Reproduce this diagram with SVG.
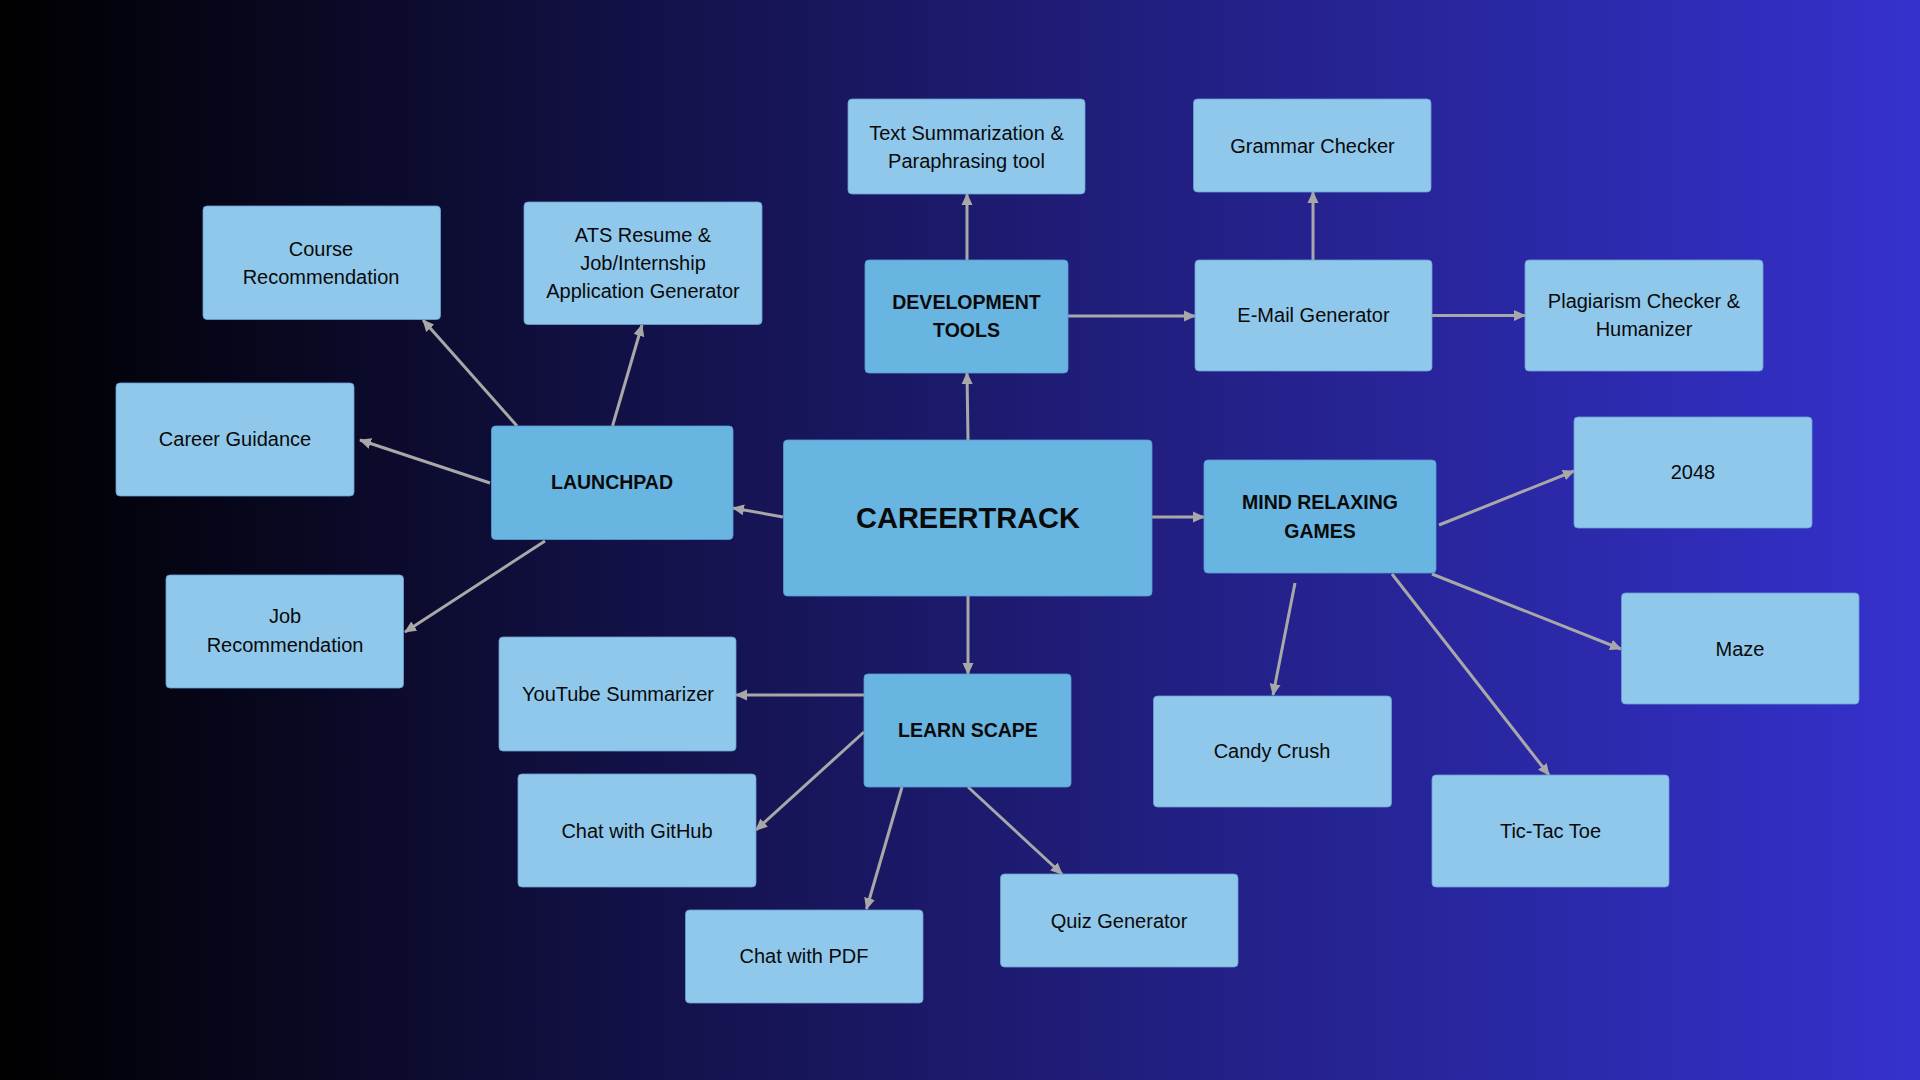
<svg xmlns="http://www.w3.org/2000/svg" width="1920" height="1080" viewBox="0 0 1920 1080">
<defs>
<linearGradient id="bg" x1="0" y1="0" x2="1" y2="0">
<stop offset="0" stop-color="#000000"/>
<stop offset="0.5" stop-color="#1c1a6c"/>
<stop offset="1" stop-color="#3531cd"/>
</linearGradient>
<marker id="arr" markerUnits="userSpaceOnUse" markerWidth="12" markerHeight="12" viewBox="0 0 12 12" refX="11" refY="6" orient="auto">
<path d="M0,0.5 L12,6 L0,11.5 z" fill="#a8a8a8"/>
</marker>
<style>
.box{fill:#90c8ec;stroke:#6a9fd6;stroke-width:0.8}
.hub{fill:#68b5e2;stroke:#5a9ad4;stroke-width:0.8}
.t{font-family:"Liberation Sans",Arial,sans-serif;font-size:20px;fill:#0a0a0a;text-anchor:middle}
.b{font-family:"Liberation Sans",Arial,sans-serif;font-size:19.5px;font-weight:bold;fill:#0a0a0a;text-anchor:middle}
.c line{stroke:#a8a8a8;stroke-width:3;marker-end:url(#arr)}
</style>
</defs>
<rect x="0" y="0" width="1920" height="1080" fill="url(#bg)"/>

<g id="connectors" class="c">
<line x1="783" y1="517" x2="733" y2="508"/>
<line x1="968" y1="440" x2="967" y2="373"/>
<line x1="1152" y1="517" x2="1204" y2="517"/>
<line x1="968" y1="596" x2="968" y2="674"/>
<line x1="967" y1="260" x2="967" y2="194"/>
<line x1="1068" y1="316" x2="1195" y2="316"/>
<line x1="1313" y1="260" x2="1313" y2="192"/>
<line x1="1432" y1="315.5" x2="1525" y2="315.5"/>
<line x1="517" y1="426" x2="423" y2="320"/>
<line x1="612.5" y1="426" x2="642" y2="325"/>
<line x1="490" y1="483" x2="360" y2="440"/>
<line x1="545" y1="541" x2="405" y2="632"/>
<line x1="864" y1="695" x2="736" y2="695"/>
<line x1="864" y1="732" x2="756" y2="830"/>
<line x1="902" y1="787" x2="866.5" y2="909"/>
<line x1="968" y1="787" x2="1062" y2="874"/>
<line x1="1439" y1="525" x2="1574" y2="471"/>
<line x1="1432" y1="574" x2="1621" y2="649"/>
<line x1="1295" y1="583" x2="1273" y2="695"/>
<line x1="1392" y1="574" x2="1549" y2="775"/>
</g>

<g id="careertrack"><rect class="hub" x="783.5" y="440" width="368.5" height="156" rx="4"/>
<text x="968" y="528" style="font-family:'Liberation Sans',Arial,sans-serif;font-size:29px;font-weight:bold;fill:#0a0a0a;text-anchor:middle">CAREERTRACK</text></g>

<g id="launchpad"><rect class="hub" x="491.5" y="426" width="241.5" height="113.5" rx="4"/>
<text class="b" x="612" y="489">LAUNCHPAD</text></g>

<g id="devtools"><rect class="hub" x="865" y="260" width="203" height="113" rx="4"/>
<text class="b" x="966.5" y="309">DEVELOPMENT</text><text class="b" x="966.5" y="337">TOOLS</text></g>

<g id="mindgames"><rect class="hub" x="1204" y="460" width="232" height="113" rx="4"/>
<text class="b" x="1320" y="509">MIND RELAXING</text><text class="b" x="1320" y="538">GAMES</text></g>

<g id="learnscape"><rect class="hub" x="864" y="674" width="207" height="113" rx="4"/>
<text class="b" x="968" y="737">LEARN SCAPE</text></g>

<g id="textsum"><rect class="box" x="848" y="99" width="237" height="95" rx="4"/>
<text class="t" x="966.5" y="140">Text Summarization &amp;</text><text class="t" x="966.5" y="168">Paraphrasing tool</text></g>

<g id="grammar"><rect class="box" x="1193.5" y="99" width="237.5" height="93" rx="4"/>
<text class="t" x="1312.5" y="153">Grammar Checker</text></g>

<g id="email"><rect class="box" x="1195" y="260" width="237" height="111" rx="4"/>
<text class="t" x="1313.5" y="322">E-Mail Generator</text></g>

<g id="plagiarism"><rect class="box" x="1525" y="260" width="238" height="111" rx="4"/>
<text class="t" x="1644" y="307.5">Plagiarism Checker &amp;</text><text class="t" x="1644" y="335.5">Humanizer</text></g>

<g id="course"><rect class="box" x="203" y="206" width="237.5" height="113.5" rx="4"/>
<text class="t" x="321" y="256">Course</text><text class="t" x="321" y="284">Recommendation</text></g>

<g id="ats"><rect class="box" x="524" y="202" width="238" height="122.5" rx="4"/>
<text class="t" x="643" y="241.5">ATS Resume &amp;</text><text class="t" x="643" y="270">Job/Internship</text><text class="t" x="643" y="297.5">Application Generator</text></g>

<g id="career"><rect class="box" x="116" y="383" width="238" height="113" rx="4"/>
<text class="t" x="235" y="445.5">Career Guidance</text></g>

<g id="job"><rect class="box" x="166" y="575" width="237.5" height="113" rx="4"/>
<text class="t" x="285" y="623">Job</text><text class="t" x="285" y="651.5">Recommendation</text></g>

<g id="youtube"><rect class="box" x="499" y="637" width="237" height="114" rx="4"/>
<text class="t" x="618" y="701">YouTube Summarizer</text></g>

<g id="github"><rect class="box" x="518" y="774" width="238" height="113" rx="4"/>
<text class="t" x="637" y="838">Chat with GitHub</text></g>

<g id="pdf"><rect class="box" x="685.5" y="910" width="237.5" height="93" rx="4"/>
<text class="t" x="804" y="963">Chat with PDF</text></g>

<g id="quiz"><rect class="box" x="1000.5" y="874" width="237.5" height="93" rx="4"/>
<text class="t" x="1119" y="928">Quiz Generator</text></g>

<g id="candy"><rect class="box" x="1153.5" y="696" width="238" height="111" rx="4"/>
<text class="t" x="1272" y="758">Candy Crush</text></g>

<g id="tictac"><rect class="box" x="1432" y="775" width="237" height="112" rx="4"/>
<text class="t" x="1550.5" y="837.5">Tic-Tac Toe</text></g>

<g id="g2048"><rect class="box" x="1574" y="417" width="238" height="111" rx="4"/>
<text class="t" x="1693" y="479">2048</text></g>

<g id="maze"><rect class="box" x="1621.5" y="593" width="237.5" height="111" rx="4"/>
<text class="t" x="1740" y="656">Maze</text></g>
</svg>
